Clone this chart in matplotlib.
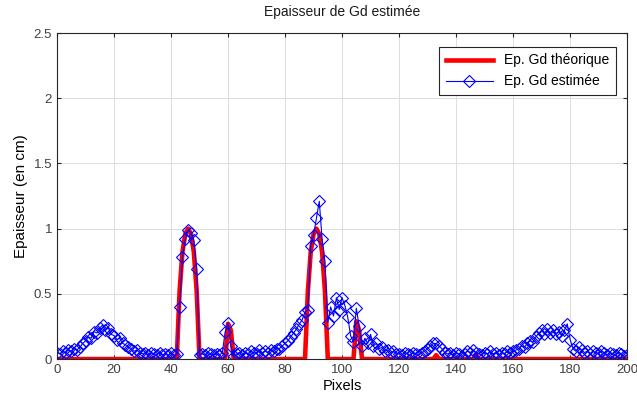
import numpy as np
import matplotlib.pyplot as plt

plt.rcParams['font.family'] = ['Liberation Sans', 'DejaVu Sans']

# pixel index 0..200
pixels = np.arange(0, 201)

# theoretical Gd thickness (cm): zero except a few peaks
ep_theo = np.zeros(201)
theo_peaks = {
    43: 0.52, 44: 0.82, 45: 0.96, 46: 1.0, 47: 0.96, 48: 0.82, 49: 0.52,
    60: 0.27, 61: 0.22,
    88: 0.52, 89: 0.82, 90: 0.96, 91: 1.0, 92: 0.96, 93: 0.82, 94: 0.52,
    105: 0.29, 106: 0.22,
    133: 0.03,
    147: 0.03,
}
for k, v in theo_peaks.items():
    ep_theo[k] = v

# estimated thickness (cm)
ep_est = [
    0.05, 0.04, 0.06, 0.05, 0.07, 0.06, 0.08, 0.07, 0.09, 0.12,   # 0-9
    0.14, 0.17, 0.16, 0.21, 0.20, 0.24, 0.26, 0.22, 0.24, 0.19,   # 10-19
    0.18, 0.15, 0.16, 0.12, 0.11, 0.09, 0.08, 0.06, 0.07, 0.05,   # 20-29
    0.04, 0.05, 0.03, 0.05, 0.04, 0.03, 0.05, 0.03, 0.04, 0.03,   # 30-39
    0.05, 0.03, 0.04, 0.40, 0.78, 0.92, 0.99, 0.97, 0.91, 0.69,   # 40-49
    0.03, 0.04, 0.03, 0.05, 0.04, 0.03, 0.04, 0.03, 0.05, 0.21,   # 50-59
    0.28, 0.10, 0.02, 0.04, 0.05, 0.03, 0.05, 0.04, 0.06, 0.05,   # 60-69
    0.04, 0.07, 0.05, 0.06, 0.05, 0.07, 0.06, 0.08, 0.08, 0.10,   # 70-79
    0.12, 0.14, 0.17, 0.20, 0.23, 0.27, 0.30, 0.36, 0.38, 0.87,   # 80-89
    0.95, 1.08, 1.21, 0.92, 0.75, 0.28, 0.40, 0.33, 0.47, 0.38,   # 90-99
    0.47, 0.41, 0.32, 0.18, 0.13, 0.39, 0.25, 0.10, 0.16, 0.12,   # 100-109
    0.19, 0.10, 0.12, 0.08, 0.09, 0.06, 0.07, 0.05, 0.06, 0.04,   # 110-119
    0.04, 0.03, 0.05, 0.04, 0.03, 0.05, 0.04, 0.03, 0.05, 0.06,   # 120-129
    0.08, 0.10, 0.12, 0.12, 0.10, 0.08, 0.05, 0.04, 0.05, 0.03,   # 130-139
    0.05, 0.04, 0.02, 0.04, 0.06, 0.05, 0.07, 0.05, 0.04, 0.03,   # 140-149
    0.05, 0.04, 0.06, 0.04, 0.05, 0.03, 0.05, 0.04, 0.06, 0.05,   # 150-159
    0.06, 0.07, 0.08, 0.10, 0.09, 0.12, 0.14, 0.13, 0.17, 0.20,   # 160-169
    0.22, 0.19, 0.23, 0.20, 0.22, 0.19, 0.21, 0.18, 0.22, 0.27,   # 170-179
    0.15, 0.08, 0.06, 0.09, 0.07, 0.05, 0.06, 0.04, 0.06, 0.05,   # 180-189
    0.04, 0.06, 0.05, 0.03, 0.05, 0.04, 0.03, 0.05, 0.04, 0.02,   # 190-199
    0.03,                                                         # 200
]

xticks = np.arange(0, 201, 20)
yticks = [0, 0.5, 1, 1.5, 2, 2.5]
ytick_labels = ['0', '0.5', '1', '1.5', '2', '2.5']

fig = plt.figure(figsize=(6.37, 4.03), dpi=100)
ax = fig.add_axes([0.0895, 0.109, 0.895, 0.809])

ax.plot(pixels, ep_theo, color='#ff0000', linewidth=3.3, label='Ep. Gd théorique')
ax.plot(pixels, ep_est, color='#0000ff', linewidth=0.8, marker='D', markersize=6,
        markerfacecolor='none', markeredgewidth=0.8, label='Ep. Gd estimée')

ax.set_xlim(0, 200)
ax.set_ylim(0, 2.5)
ax.set_xticks(xticks)
ax.set_yticks(yticks)
ax.set_yticklabels(ytick_labels)

ax.grid(True, color='#dcdcdc', linewidth=0.7)
ax.set_axisbelow(True)
ax.tick_params(direction='in', top=True, right=True, length=3,
               labelsize=9.5, colors='#262626', labelcolor='#404040')
for s in ax.spines.values():
    s.set_color('#262626')
    s.set_linewidth(0.8)

ax.set_title('Epaisseur de Gd estimée', fontsize=10, color='#1a1a1a', pad=12)
ax.set_xlabel('Pixels', fontsize=10.5, labelpad=2)
ax.set_ylabel('Epaisseur (en cm)', fontsize=11, labelpad=4)

leg = ax.legend(loc='upper right', fontsize=10, fancybox=False, framealpha=1,
                edgecolor='#262626', borderpad=0.5, labelspacing=0.5,
                handlelength=3.4, bbox_to_anchor=(0.993, 0.98))
leg.get_frame().set_linewidth(0.8)

fig.savefig('out.png', dpi=100)
